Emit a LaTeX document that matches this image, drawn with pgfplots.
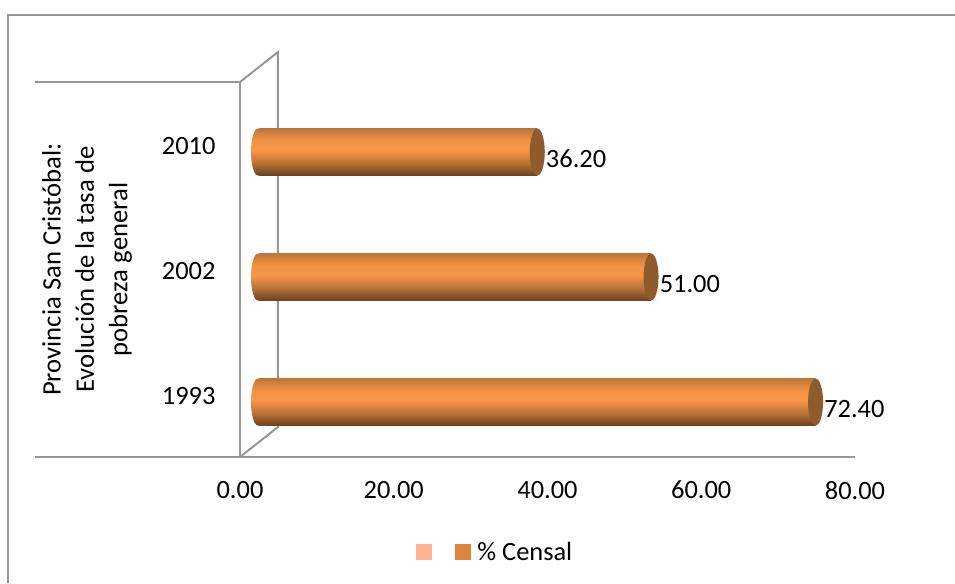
\documentclass[border=0pt]{standalone}
\usepackage{fontspec}
\setmainfont{Carlito}
\usepackage{pgfplots}
\pgfplotsset{compat=1.18}

\definecolor{wallgray}{RGB}{150,150,150}
\definecolor{capbrown}{RGB}{143,90,44}
\definecolor{censal}{RGB}{221,132,61}
\definecolor{pale}{RGB}{252,180,145}

\pgfdeclareverticalshading{cyl}{100bp}{%
  rgb(0bp)=(0.42,0.26,0.12);
  rgb(25bp)=(0.42,0.26,0.12);
  rgb(38bp)=(0.72,0.44,0.21);
  rgb(52bp)=(0.97,0.59,0.28);
  rgb(62bp)=(0.95,0.58,0.27);
  rgb(75bp)=(0.74,0.46,0.22);
  rgb(100bp)=(0.74,0.46,0.22)}

% 1 reference pixel
\newlength{\px}
\setlength{\px}{0.75pt}

\pgfdeclareplotmark{capfront}{%
  \pgfpathellipse{\pgfpointorigin}{\pgfqpoint{7.5\px}{0pt}}{\pgfqpoint{0pt}{23.5\px}}%
  \pgfusepathqfill}
\pgfdeclareplotmark{capback}{%
  \shade[shading=cyl,draw=none] (0pt,0pt) ellipse [x radius=7\px, y radius=23.5\px];}

\pgfplotsset{
  cylbar/.style={xbar, bar shift=0pt, draw=none, shade, shading=cyl, bar width=47\px, forget plot,
    xshift=19\px, yshift=-7.5\px,
    nodes near coords,
    nodes near coords style={anchor=west, font=\fontsize{19.8}{22}\selectfont, text=black,
      xshift=4\px, yshift=-7\px,
      /pgf/number format/fixed,/pgf/number format/zerofill,/pgf/number format/precision=2}},
}

\begin{document}
\begin{tikzpicture}
% page is 955x583, origin at the axis corner (240,457)
\path[use as bounding box] (-240\px,-126\px) rectangle (715\px,457\px);
\draw[wallgray,line width=2\px] (-232\px,-126\px) -- (-232\px,442\px) -- (715\px,442\px);

\begin{axis}[
  at={(0pt,0pt)}, anchor=south west,
  scale only axis,
  width=615\px, height=375\px,
  xmin=0, xmax=80,
  ymin=-0.5, ymax=2.5,
  xtick={0,20,40,60,80},
  ytick={0,1,2},
  yticklabels={1993,2002,2010},
  xticklabel style={/pgf/number format/fixed,/pgf/number format/zerofill,/pgf/number format/precision=2},
  yticklabel style={yshift=-1.5\px},
  /pgf/number format/assume math mode=true,
  tick style={draw=none},
  ticklabel style={font=\fontsize{19.8}{22}\selectfont},
  xticklabel shift=16.5\px,
  yticklabel shift=17\px,
  axis x line=bottom, axis y line=left,
  axis line style={-,wallgray,line width=2\px},
  clip=false,
  legend columns=2,
  legend style={at={(0.2797,-0.2533)},anchor=west,draw=none,fill=none,
    font=\fontsize{19.8}{22}\selectfont,
    /tikz/every even column/.append style={column sep=18\px}},
  legend image code/.code={\fill[#1] (0pt,-7.5\px) rectangle (15\px,7.5\px);},
]
% walls
\draw[wallgray,line width=2\px] (axis cs:0,2.5) -- ++(-205\px,0pt);
\draw[wallgray,line width=2\px] (axis cs:0,-0.5) -- ++(-205\px,0pt);
\draw[wallgray,line width=2\px] (axis cs:0,2.5) -- ++(38\px,30\px) -- ++(0pt,-375\px) -- (axis cs:0,-0.5);

\addlegendimage{pale}
\addlegendentry{}
\addlegendimage{censal}
\addlegendentry{\hspace*{4\px}\% Censal}

\addplot[cylbar] coordinates {(72.40,0)};
\addplot[cylbar] coordinates {(51.00,1)};
\addplot[cylbar] coordinates {(36.20,2)};
\addplot[only marks, mark=capfront, mark options={fill=capbrown,draw=none}, forget plot, xshift=19\px, yshift=-7.5\px]
  coordinates {(72.40,0) (51.00,1) (36.20,2)};
\addplot[only marks, mark=capback, mark options={draw=none}, forget plot, xshift=18\px, yshift=-7.5\px]
  coordinates {(0,0) (0,1) (0,2)};

\node[rotate=90,align=center,font=\fontsize{20}{25}\selectfont] at ([xshift=-153\px]axis cs:0,1) {Provincia San Cristóbal:\\Evolución de la tasa de\\pobreza general};
\end{axis}
\end{tikzpicture}
\end{document}
